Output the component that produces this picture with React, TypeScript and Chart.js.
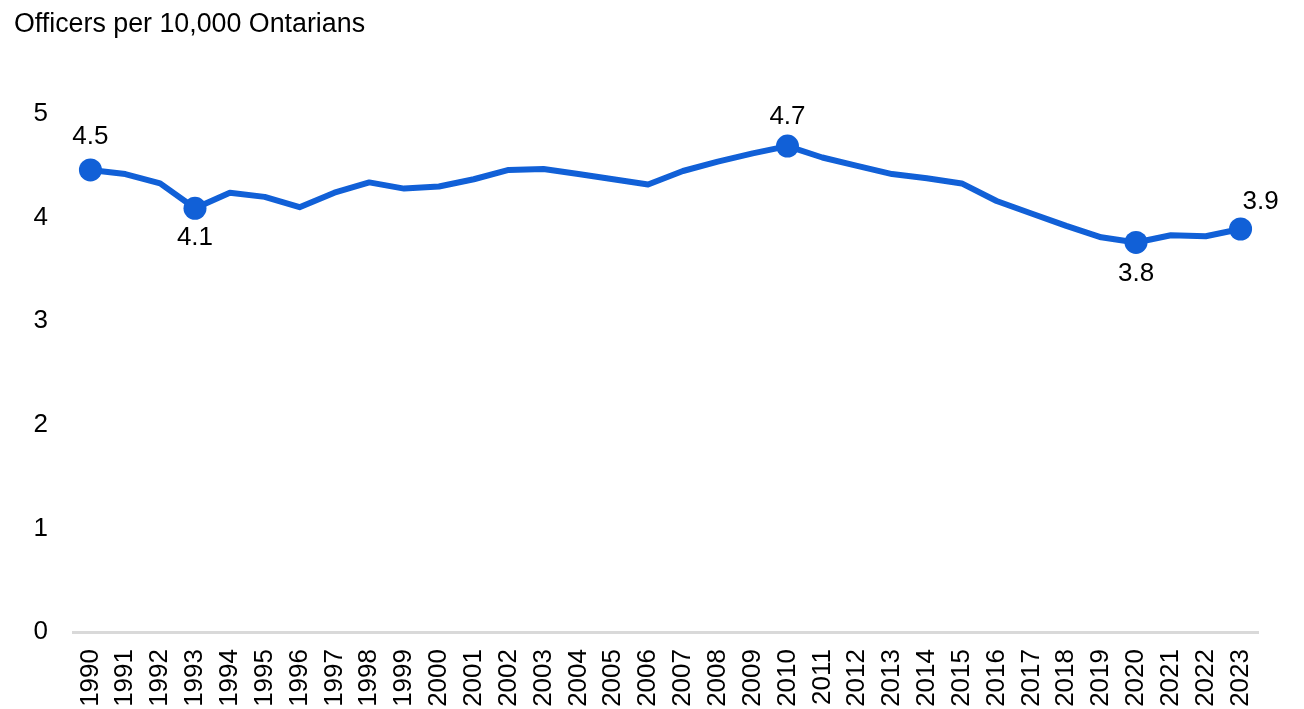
import { useEffect, useRef } from "react";
import { Chart, registerables } from "chart.js";

Chart.register(...registerables);

const chartTitle = "Officers per 10,000 Ontarians";

const years = [
  "1990", "1991", "1992", "1993", "1994", "1995", "1996", "1997", "1998", "1999",
  "2000", "2001", "2002", "2003", "2004", "2005", "2006", "2007", "2008", "2009",
  "2010", "2011", "2012", "2013", "2014", "2015", "2016", "2017", "2018", "2019",
  "2020", "2021", "2022", "2023",
];

const officersPer10k = [
  4.46, 4.42, 4.33, 4.09, 4.24, 4.2, 4.1, 4.24, 4.34, 4.28,
  4.3, 4.37, 4.46, 4.47, 4.42, 4.37, 4.32, 4.45, 4.54, 4.62,
  4.69, 4.58, 4.5, 4.42, 4.38, 4.33, 4.16, 4.04, 3.92, 3.81,
  3.76, 3.83, 3.82, 3.89,
];

const highlightYears = ["1990", "1993", "2010", "2020", "2023"];
const highlightLabels = ["4.5", "4.1", "4.7", "3.8", "3.9"];

const yTickMin = 0;
const yTickMax = 5;
const yTickStep = 1;

// label placement per highlighted point (style, not data)
const labelPlacement: { dx: number; dy: number; align: CanvasTextAlign }[] = [
  { dx: 0, dy: -33, align: "center" },
  { dx: 0, dy: 30, align: "center" },
  { dx: 0, dy: -29, align: "center" },
  { dx: 0, dy: 31, align: "center" },
  { dx: 2, dy: -27, align: "left" },
];

const FONT = "'Liberation Sans', Arial, Helvetica, sans-serif";
const LINE_COLOR = "#1160D7";

export default function App() {
  const canvasRef = useRef<HTMLCanvasElement | null>(null);

  useEffect(() => {
    if (!canvasRef.current) return;

    const highlightIdx = highlightYears.map((y) => years.indexOf(y));

    const titlePlugin = {
      id: "customTitle",
      afterDraw(chart: any) {
        const ctx = chart.ctx;
        ctx.save();
        ctx.font = `26.8px ${FONT}`;
        ctx.fillStyle = "#000";
        ctx.textAlign = "left";
        ctx.textBaseline = "alphabetic";
        ctx.fillText(chartTitle, 14, 32);
        ctx.restore();
      },
    };

    const dataLabelPlugin = {
      id: "pointLabels",
      afterDatasetsDraw(chart: any) {
        const ctx = chart.ctx;
        const meta = chart.getDatasetMeta(0);
        ctx.save();
        ctx.font = `26px ${FONT}`;
        ctx.fillStyle = "#000";
        ctx.textBaseline = "middle";
        highlightIdx.forEach((idx, i) => {
          const pt = meta.data[idx];
          if (!pt) return;
          const p = labelPlacement[i];
          ctx.textAlign = p.align;
          ctx.fillText(highlightLabels[i], pt.x + p.dx, pt.y + p.dy);
        });
        ctx.restore();
      },
    };

    const chart = new Chart(canvasRef.current, {
      type: "line",
      data: {
        labels: years,
        datasets: [
          {
            data: officersPer10k,
            borderColor: LINE_COLOR,
            backgroundColor: LINE_COLOR,
            borderWidth: 6,
            tension: 0,
            pointRadius: years.map((_, i) => (highlightIdx.includes(i) ? 11.5 : 0)),
            pointHoverRadius: 0,
            pointBorderWidth: 0,
            pointBackgroundColor: LINE_COLOR,
            borderJoinStyle: "round",
            borderCapStyle: "round",
          },
        ],
      },
      options: {
        responsive: true,
        maintainAspectRatio: false,
        animation: false,
        layout: { padding: { top: 114, left: 14, right: 46, bottom: 0 } },
        plugins: {
          legend: { display: false },
          title: { display: false },
          tooltip: { enabled: false },
        },
        scales: {
          x: {
            offset: true,
            grid: { display: false, drawTicks: false },
            border: { display: true, color: "#D9D9D9", width: 3 },
            ticks: {
              autoSkip: false,
              minRotation: 90,
              maxRotation: 90,
              padding: 17,
              color: "#000",
              font: { family: FONT, size: 26 },
            },
            afterFit(scale: any) {
              scale.height = 77;
            },
          },
          y: {
            min: yTickMin,
            max: yTickMax,
            grid: { display: false, drawTicks: false },
            border: { display: false },
            ticks: {
              stepSize: yTickStep,
              padding: 25,
              color: "#000",
              font: { family: FONT, size: 26 },
            },
            afterFit(scale: any) {
              scale.width = 59;
            },
          },
        },
      },
      plugins: [titlePlugin, dataLabelPlugin],
    });

    return () => chart.destroy();
  }, []);

  return (
    <div style={{ position: "fixed", left: 0, top: 0, width: 1304, height: 709, background: "#fff" }}>
      <canvas ref={canvasRef} style={{ width: "100%", height: "100%" }} />
    </div>
  );
}
